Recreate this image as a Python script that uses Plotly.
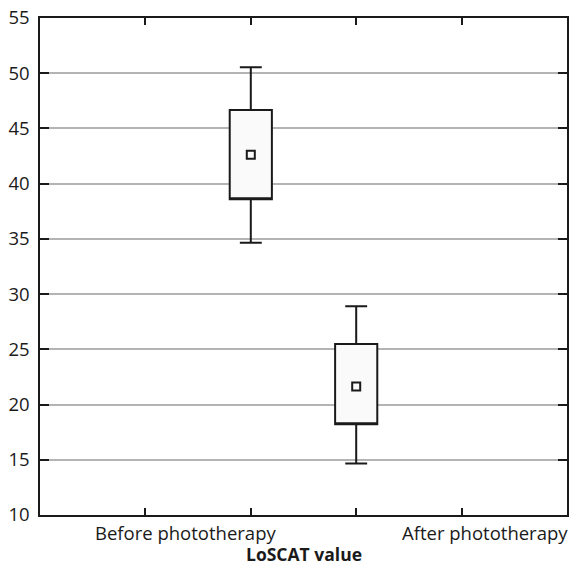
import plotly.graph_objects as go

groups = ["Before phototherapy", "After phototherapy"]
group_x = [2, 3]
upper_whisker = [50.55, 28.91]
q3_values = [46.68, 25.49]
mean_values = [42.62, 21.64]
q1_values = [38.59, 18.21]
lower_whisker = [34.65, 14.67]

x_tick_positions = [1, 2, 3, 4]
label_positions = [1.38, 4.22]
y_ticks = [10, 15, 20, 25, 30, 35, 40, 45, 50, 55]

FONT = "Open Sans"

fig = go.Figure()
fig.add_trace(go.Box(
    x=group_x,
    q1=q1_values, median=q1_values, q3=q3_values,
    lowerfence=lower_whisker, upperfence=upper_whisker,
    width=0.4, whiskerwidth=0.52,
    fillcolor="#fafafa",
    line=dict(color="#1a1a1a", width=2),
    boxpoints=False, hoverinfo="skip", showlegend=False,
))
fig.add_trace(go.Scatter(
    x=group_x, y=mean_values, mode="markers",
    marker=dict(symbol="square-open", size=8, color="#1a1a1a",
                line=dict(width=2, color="#1a1a1a")),
    showlegend=False, hoverinfo="skip",
))

for lab, pos in zip(groups, label_positions):
    fig.add_annotation(x=pos, y=0, xref="x", yref="paper", yanchor="top",
                       yshift=-3, text=lab, showarrow=False,
                       font=dict(family=FONT, size=18.5, color="#1a1a1a"))
fig.add_annotation(x=0.5, y=0, xref="paper", yref="paper", yanchor="top",
                   yshift=-25, text="<b>LoSCAT value</b>", showarrow=False,
                   font=dict(family=FONT, size=17.5, color="#1a1a1a"))

fig.update_layout(
    width=573, height=567,
    margin=dict(l=40, r=4, t=16, b=52),
    plot_bgcolor="white", paper_bgcolor="white",
    font=dict(family=FONT, size=18.5, color="#1a1a1a"),
    xaxis=dict(range=[0, 5], tickvals=x_tick_positions, ticktext=["", "", "", ""],
               ticks="inside", ticklen=7, tickwidth=1.5, tickcolor="#1a1a1a",
               showgrid=False, zeroline=False, mirror="ticks",
               showline=True, linecolor="#1a1a1a", linewidth=1.5),
    yaxis=dict(range=[10, 55], tickvals=y_ticks,
               ticks="inside", ticklen=9, tickwidth=1.5, tickcolor="#1a1a1a",
               showgrid=True, gridcolor="#b4b4b4", gridwidth=1.5,
               zeroline=False, mirror="ticks",
               showline=True, linecolor="#1a1a1a", linewidth=1.5,
               ticklabelstandoff=5),
)

fig.write_html("out.html", config={"displayModeBar": False},
               post_script="document.body.style.margin='0';document.body.style.overflow='hidden';")
